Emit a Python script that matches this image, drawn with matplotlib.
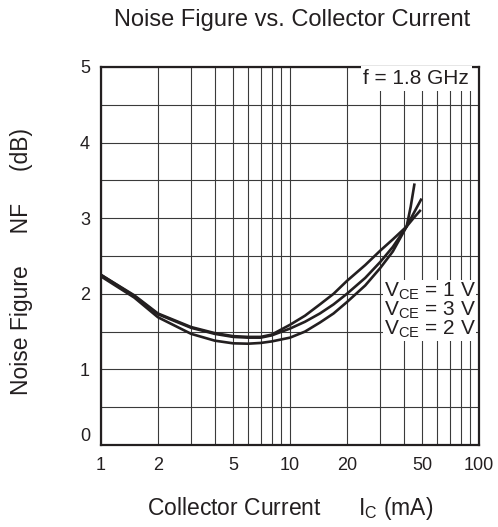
import matplotlib
matplotlib.use("Agg")
import matplotlib.pyplot as plt
from matplotlib.ticker import FixedLocator, NullFormatter

plt.rcParams['font.family'] = ['Liberation Sans', 'DejaVu Sans']
plt.rcParams['mathtext.default'] = 'regular'

# Data
ic_1v = [1, 1.5, 2, 3, 4, 5, 6, 7, 8, 10, 12, 14.4, 17, 20, 25, 30, 35, 41.4, 43.5, 45.6]
nf_1v = [2.23, 1.95, 1.69, 1.47, 1.38, 1.345, 1.34, 1.35, 1.37, 1.42, 1.50, 1.62, 1.74, 1.89, 2.11, 2.34, 2.56, 2.89, 3.15, 3.46]
ic_3v = [1, 1.5, 2, 3, 4, 5, 6, 7, 8, 10, 12, 14.4, 17, 20, 25, 30, 35, 41.4, 45, 49.7]
nf_3v = [2.25, 1.97, 1.73, 1.55, 1.47, 1.43, 1.42, 1.42, 1.45, 1.54, 1.63, 1.74, 1.86, 2.0, 2.21, 2.42, 2.62, 2.89, 3.06, 3.26]
ic_2v = [1, 1.5, 2, 3, 4, 5, 6, 7, 8, 10, 12, 14.4, 17, 20, 25, 30, 35, 41.4, 45, 49.2]
nf_2v = [2.25, 1.98, 1.74, 1.56, 1.48, 1.44, 1.43, 1.43, 1.46, 1.59, 1.71, 1.86, 2.0, 2.17, 2.38, 2.57, 2.72, 2.89, 3.0, 3.11]

x_ticks = [1, 2, 5, 10, 20, 50, 100]
x_tick_labels = ['1', '2', '5', '10', '20', '50', '100']
y_ticks = [0, 1, 2, 3, 4, 5]
series_labels = ['V$_{CE}$ = 1 V', 'V$_{CE}$ = 3 V', 'V$_{CE}$ = 2 V']

txt = '#231f20'

fig = plt.figure(figsize=(4.98, 5.27), dpi=100)
ax = fig.add_axes([101/498, 1-445/527, (479-101)/498, (445-67)/527])

ax.set_xscale('log')
ax.set_xlim(1, 100)
ax.set_ylim(0, 5)

minor = [m * d for d in (1, 10) for m in range(2, 10)]
ax.xaxis.set_major_locator(FixedLocator(x_ticks))
ax.set_xticklabels(x_tick_labels)
ax.xaxis.set_minor_locator(FixedLocator(minor))
ax.xaxis.set_minor_formatter(NullFormatter())
ax.set_yticks(y_ticks)
ax.yaxis.set_minor_locator(FixedLocator([0.5, 1.5, 2.5, 3.5, 4.5]))

ax.grid(which='both', color='#3a3a3a', linewidth=0.8)
ax.set_axisbelow(True)
ax.tick_params(which='both', length=0, labelsize=13, colors=txt)
ax.tick_params(axis='x', pad=9)
ax.tick_params(axis='y', pad=8)
ax.get_yticklabels()[0].set_verticalalignment('bottom')
for s in ax.spines.values():
    s.set_linewidth(1.6)
    s.set_color('#231f20')

for ic, nf in ((ic_1v, nf_1v), (ic_3v, nf_3v), (ic_2v, nf_2v)):
    ax.plot(ic, nf, color='#231f20', linewidth=1.9, solid_joinstyle='round', solid_capstyle='butt', zorder=3)

ax.text(88.5, 4.85, 'f = 1.8 GHz', ha='right', va='center', fontsize=15, color=txt,
        bbox=dict(facecolor='white', edgecolor='none', pad=2), zorder=4)

ax.text(96.0, 1.46, '\n'.join(series_labels), ha='right', va='baseline', fontsize=15,
        color=txt, linespacing=0.85, multialignment='right',
        bbox=dict(facecolor='white', edgecolor='none', pad=0.5), zorder=4)

fig.text(291.7/498, 1-20/527, 'Noise Figure vs. Collector Current', ha='center', va='center',
         fontsize=17, color=txt)
fig.text(290/498, 1-509/527, 'Collector Current      I$_{C}$ (mA)', ha='center', va='center',
         fontsize=16.5, color=txt)
fig.text(22/498, 1-262/527, 'Noise Figure     NF     (dB)', ha='center', va='center',
         rotation=90, fontsize=16.5, color=txt)

fig.savefig('out.png', dpi=100)
